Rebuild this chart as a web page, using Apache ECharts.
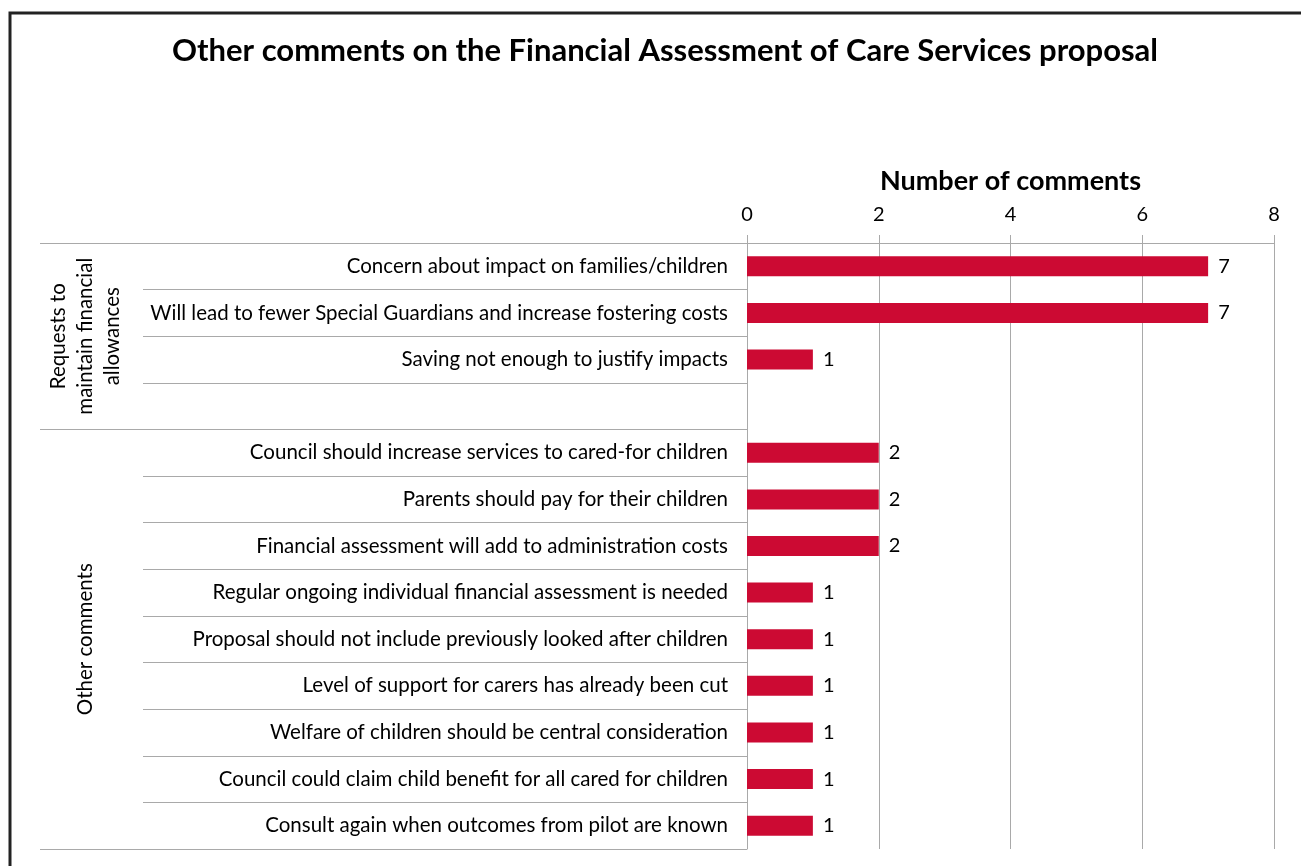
<!DOCTYPE html>
<html>
<head>
<meta charset="utf-8">
<script src="https://cdn.jsdelivr.net/npm/echarts@6/dist/echarts.min.js"></script>
<style>
  html, body { margin: 0; padding: 0; background: #fff; }
  #chart { width: 1301px; height: 866px; }
</style>
</head>
<body>
<div id="chart"></div>
<script>
// rows from top to bottom, '' is the spacer row between the two groups
const categories = [
  'Concern about impact on families/children',
  'Will lead to fewer Special Guardians and increase fostering costs',
  'Saving not enough to justify impacts',
  '',
  'Council should increase services to cared-for children',
  'Parents should pay for their children',
  'Financial assessment will add to administration costs',
  'Regular ongoing individual financial assessment is needed',
  'Proposal should not include previously looked after children',
  'Level of support for carers has already been cut',
  'Welfare of children should be central consideration',
  'Council could claim child benefit for all cared for children',
  'Consult again when outcomes from pilot are known'
];
const counts = [7, 7, 1, null, 2, 2, 2, 1, 1, 1, 1, 1, 1];

// group labels and the row boundaries they span
const groupNames = ['Requests to\nmaintain financial\nallowances', 'Other comments'];
const groupEdges = [0, 4, 13];
const groupMids = [2, 8.5];

const xMin = 0, xMax = 8, xStep = 2;

const FONT = 'Lato';
const GRID_GREY = '#A9A9A9';

var chart = echarts.init(document.getElementById('chart'));

var option = {
  textStyle: { fontFamily: FONT },
  title: {
    text: 'Other comments on the Financial Assessment of Care Services proposal',
    left: 167,
    top: 30,
    textStyle: { fontFamily: FONT, fontSize: 31, fontWeight: 'bold', color: '#000' }
  },
  graphic: [{
    type: 'rect',
    shape: { x: 10, y: 13, width: 1400, height: 1000 },
    style: { fill: 'none', stroke: '#222', lineWidth: 3 },
    silent: true
  }],
  grid: { left: 747, right: 27, top: 243, bottom: 17 },
  xAxis: {
    type: 'value',
    position: 'top',
    min: xMin,
    max: xMax,
    interval: xStep,
    name: 'Number of comments',
    nameLocation: 'middle',
    nameGap: 48,
    nameTextStyle: { fontFamily: FONT, fontSize: 27, fontWeight: 'bold', color: '#000' },
    axisLine: { show: true, lineStyle: { color: GRID_GREY, width: 1 } },
    axisTick: { show: true, length: 8, lineStyle: { color: GRID_GREY } },
    axisLabel: { fontFamily: FONT, fontSize: 20, color: '#000', margin: 18 },
    splitLine: { show: true, lineStyle: { color: GRID_GREY, width: 1 } }
  },
  yAxis: [{
    type: 'category',
    data: categories,
    inverse: true,
    position: 'left',
    axisLine: { show: true, lineStyle: { color: GRID_GREY, width: 1 } },
    axisTick: { show: true, interval: 0, length: 604, lineStyle: { color: GRID_GREY } },
    axisLabel: { interval: 0, fontFamily: FONT, fontSize: 20.5, color: '#000', margin: 19 },
    splitLine: { show: false }
  }, {
    type: 'value',
    min: groupEdges[0],
    max: groupEdges[groupEdges.length - 1],
    inverse: true,
    position: 'left',
    axisLine: { show: false },
    axisTick: { show: true, customValues: groupEdges, length: 707, lineStyle: { color: GRID_GREY } },
    axisLabel: {
      customValues: groupMids,
      rotate: 90,
      verticalAlign: 'middle',
      align: 'center',
      margin: 662,
      fontFamily: FONT,
      fontSize: 20.5,
      lineHeight: 27,
      color: '#000',
      formatter: function (v) {
        var i = groupMids.indexOf(v);
        return i >= 0 ? groupNames[i] : '';
      }
    },
    splitLine: { show: false }
  }],
  series: [{
    type: 'bar',
    yAxisIndex: 0,
    data: counts,
    barWidth: 20,
    itemStyle: { color: '#CC0A33' },
    label: {
      show: true,
      position: 'right',
      distance: 10,
      fontFamily: FONT,
      fontSize: 20,
      color: '#000'
    }
  }]
};

chart.setOption(option);
</script>
</body>
</html>
